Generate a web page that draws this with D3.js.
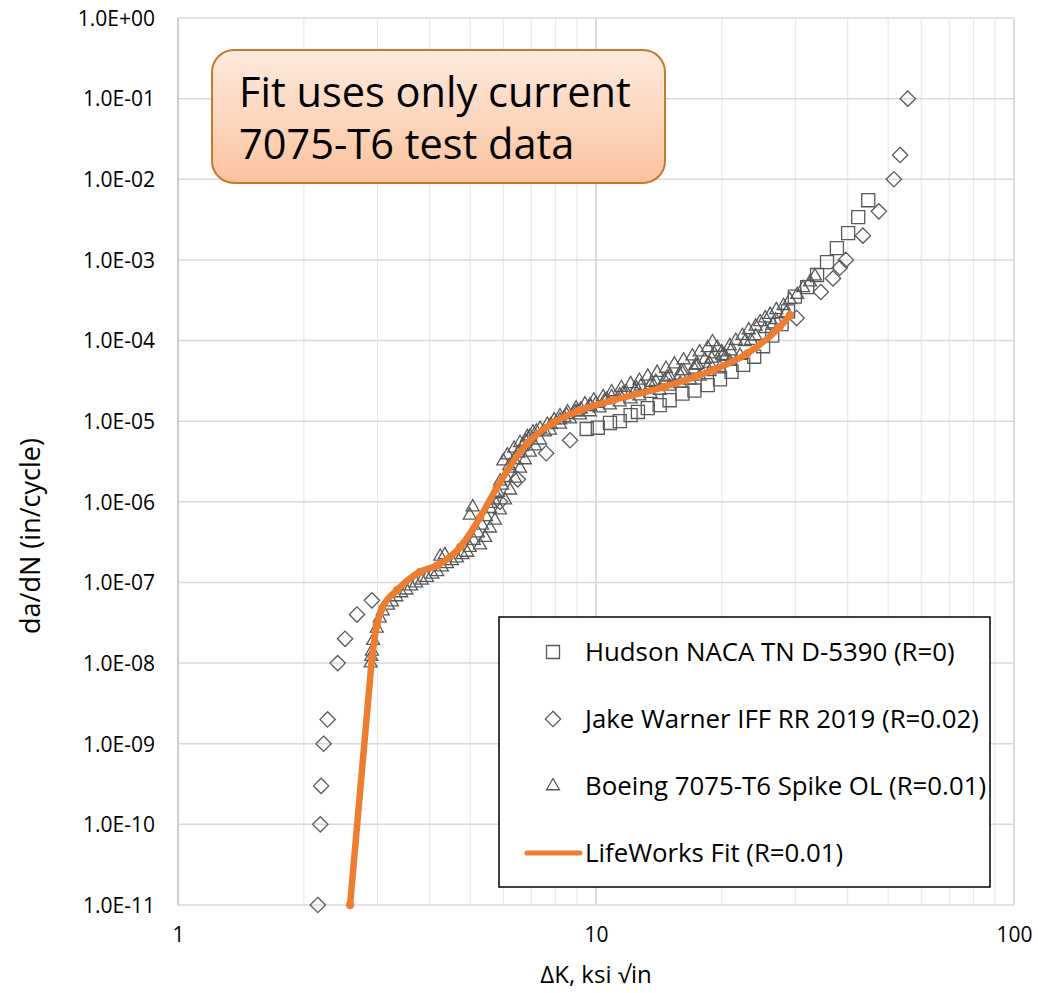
<!DOCTYPE html>
<html>
<head>
<meta charset="utf-8">
<script src="https://cdn.jsdelivr.net/npm/d3@7"></script>
<style>
  body { margin: 0; background: #fff; }
  text { font-family: "Open Sans", sans-serif; }
</style>
</head>
<body>
<div id="chart"></div>
<script>
// ---- data (delta K in ksi*sqrt(in), da/dN in in/cycle) ----
const hudson = [
  [9.5, 8.0e-6], [10.1, 8.3e-6], [10.8, 9.5e-6], [11.4, 1.0e-5], [12.1, 1.19e-5],
  [12.6, 1.3e-5], [13.3, 1.45e-5], [14.2, 1.58e-5], [15.0, 1.82e-5], [16.1, 2.2e-5],
  [17.2, 2.4e-5], [18.5, 2.8e-5], [19.8, 3.3e-5], [21.1, 4.1e-5], [22.5, 5.0e-5],
  [23.9, 6.3e-5], [25.1, 8.5e-5], [26.4, 1.15e-4], [27.8, 1.6e-4], [28.8, 2.3e-4],
  [29.9, 3.5e-4], [32.0, 4.6e-4], [33.8, 6.5e-4], [35.7, 9.4e-4], [37.7, 1.4e-3],
  [40.1, 2.15e-3], [42.4, 3.4e-3], [44.8, 5.5e-3]
];

const warner = [
  [2.16, 1e-11], [2.19, 1e-10], [2.20, 3e-10], [2.23, 1e-9], [2.28, 2e-9],
  [2.41, 1e-8], [2.51, 2e-8], [2.68, 4e-8], [2.91, 6e-8],
  [5.89, 1.0e-6], [6.5, 1.9e-6], [7.6, 4.0e-6], [8.67, 5.8e-6],
  [30.2, 1.9e-4], [34.5, 4e-4], [36.9, 5.9e-4], [38.3, 8e-4], [39.6, 1e-3],
  [43.5, 2e-3], [47.5, 4e-3], [51.6, 1e-2], [53.4, 2e-2], [55.7, 1e-1]
];

const boeing = [
  // near threshold
  [2.89, 1.0e-8], [2.90, 1.2e-8], [2.91, 1.4e-8], [2.93, 1.9e-8], [2.99, 2.7e-8],
  [3.04, 3.6e-8], [3.09, 4.4e-8], [3.18, 5.2e-8], [3.25, 5.7e-8], [3.33, 6.6e-8],
  [3.42, 7.4e-8], [3.52, 8.0e-8], [3.61, 9.0e-8], [3.71, 9.8e-8], [3.83, 1.06e-7],
  [3.94, 1.15e-7], [4.06, 1.26e-7], [4.17, 1.35e-7], [4.28, 1.55e-7], [4.40, 1.7e-7],
  [4.52, 1.85e-7], [4.65, 2.0e-7], [4.79, 2.2e-7], [4.92, 2.35e-7], [4.24, 2.1e-7],
  [4.35, 2.2e-7],
  // steep part
  [4.99, 2.7e-7], [5.10, 3.3e-7], [5.22, 4.1e-7], [5.34, 5.1e-7], [5.46, 6.5e-7],
  [5.58, 8.2e-7], [5.70, 1.05e-6], [5.83, 1.3e-6], [5.96, 1.6e-6], [6.09, 2.0e-6],
  [6.23, 2.6e-6], [6.37, 3.3e-6], [6.51, 4.0e-6], [6.65, 4.8e-6], [6.79, 5.6e-6],
  [6.95, 6.5e-6],
  [5.28, 2.9e-7], [5.43, 3.6e-7], [5.58, 4.7e-7], [5.73, 5.9e-7], [5.89, 7.9e-7],
  [6.06, 1.05e-6], [6.23, 1.39e-6], [6.40, 1.95e-6], [6.58, 2.6e-6], [6.76, 3.3e-6],
  [6.95, 4.1e-6], [7.15, 4.9e-6],
  [4.99, 6.8e-7], [5.07, 8.6e-7],
  [5.6, 9.5e-7], [5.75, 1.25e-6], [5.9, 1.8e-6], [6.2, 2.8e-6],
  // upper edge of the band
  [6.00, 3.2e-6], [6.14, 3.8e-6], [6.37, 4.6e-6], [6.58, 5.4e-6], [6.85, 6.4e-6],
  [7.07, 7.3e-6], [7.35, 8.1e-6], [7.65, 9.1e-6], [7.94, 1.03e-5], [8.20, 1.16e-5],
  [8.55, 1.3e-5], [8.96, 1.45e-5], [9.41, 1.63e-5], [9.88, 1.82e-5], [10.4, 2.0e-5],
  [10.9, 2.3e-5], [11.5, 2.6e-5], [12.1, 2.9e-5], [12.7, 3.2e-5], [13.3, 3.6e-5],
  [14.0, 4.0e-5], [14.7, 4.5e-5], [15.4, 5.1e-5], [16.2, 5.7e-5], [17.0, 6.4e-5],
  [17.7, 7.2e-5], [18.5, 8.1e-5], [19.0, 9.6e-5], [19.5, 8.2e-5],
  [7.2, 7.5e-6], [7.8, 9.0e-6], [8.4, 1.1e-5], [9.0, 1.3e-5], [9.7, 1.5e-5],
  [10.6, 1.85e-5], [11.6, 2.2e-5], [12.5, 2.55e-5], [13.6, 3.0e-5], [14.8, 3.5e-5],
  [16.0, 4.2e-5], [17.3, 4.9e-5], [18.2, 5.8e-5], [19.2, 6.8e-5], [21.0, 7.4e-5],
  [23.5, 1.0e-4], [26.5, 1.6e-4],
  // lower edge
  [7.35, 5.8e-6], [7.76, 7.7e-6], [8.20, 9.1e-6], [8.67, 1.06e-5], [9.16, 1.19e-5],
  [9.67, 1.3e-5], [10.2, 1.45e-5], [10.8, 1.58e-5], [11.4, 1.72e-5], [12.1, 1.88e-5],
  [12.7, 2.05e-5], [13.5, 2.2e-5], [14.2, 2.4e-5], [15.0, 2.7e-5], [15.9, 2.95e-5],
  [16.8, 3.2e-5], [17.7, 3.6e-5], [18.7, 4.1e-5], [19.8, 4.6e-5], [20.9, 5.5e-5],
  [22.1, 6.5e-5],
  // middle
  [7.55, 7.3e-6], [8.2, 1.03e-5], [8.91, 1.3e-5], [9.67, 1.58e-5], [10.5, 1.82e-5],
  [11.4, 2.1e-5], [12.4, 2.4e-5], [13.5, 2.8e-5], [14.6, 3.2e-5], [15.9, 3.7e-5],
  [17.2, 4.4e-5], [18.7, 5.2e-5], [20.4, 6.3e-5],
  [8.5, 1.2e-5], [9.2, 1.4e-5], [10.0, 1.65e-5], [10.9, 2.0e-5], [11.8, 2.3e-5],
  [12.8, 2.7e-5], [13.9, 3.1e-5], [15.0, 3.6e-5], [16.2, 4.2e-5], [17.5, 5.0e-5],
  [18.9, 6.0e-5], [20.1, 6.5e-5],
  // upper right
  [20.0, 7.2e-5], [20.9, 8.6e-5], [21.6, 1.0e-4], [22.4, 1.15e-4], [23.2, 1.35e-4],
  [24.1, 1.5e-4], [24.7, 1.7e-4], [25.4, 1.9e-4], [26.1, 2.1e-4], [27.0, 2.4e-4],
  [28.1, 2.7e-4], [29.1, 3.2e-4], [30.3, 3.7e-4], [31.3, 4.5e-4], [32.5, 5.3e-4],
  [33.4, 6.3e-4], [22.7, 9.6e-5], [24.1, 1.13e-4], [25.4, 1.4e-4], [26.9, 1.8e-4],
  [28.5, 2.2e-4]
];

const fitK    = [2.58, 2.91, 2.99, 3.08, 3.34, 3.79, 4.17, 4.73, 5.28, 5.79, 6.84, 7.89, 9.16, 11.0, 14.5, 19.05, 23.0, 27.5, 29.1];
const fitRate = [1e-11, 1.15e-8, 2.95e-8, 4.8e-8, 8e-8, 1.35e-7, 1.63e-7, 2.75e-7, 6.4e-7, 1.5e-6, 5.3e-6, 9.5e-6, 1.37e-5, 1.82e-5, 2.64e-5, 4.3e-5, 6.9e-5, 1.47e-4, 2.07e-4];

const yTicks = [1, 1e-1, 1e-2, 1e-3, 1e-4, 1e-5, 1e-6, 1e-7, 1e-8, 1e-9, 1e-10, 1e-11];
const xTicks = [1, 10, 100];

const legendLabels = [
  "Hudson NACA TN D-5390 (R=0)",
  "Jake Warner IFF RR 2019 (R=0.02)",
  "Boeing 7075-T6 Spike OL (R=0.01)",
  "LifeWorks Fit (R=0.01)"
];
const noteLines = ["Fit uses only current", "7075-T6 test data"];

// ---- layout ----
let width = 1038, height = 993;
let plot = { left: 178, right: 1014, top: 18, bottom: 905 };
let markerColor = "#595959";
let fitColor = "#ed7d31";

let svg = d3.select("#chart").append("svg")
  .attr("width", width)
  .attr("height", height);

svg.append("rect").attr("width", width).attr("height", height).attr("fill", "#fff");

let x = d3.scaleLog().domain([1, 100]).range([plot.left, plot.right]);
let y = d3.scaleLog().domain([1e-11, 1]).range([plot.bottom, plot.top]);

// gridlines
let grid = svg.append("g");
x.ticks().forEach(t => {
  let major = Math.abs(Math.log10(t) - Math.round(Math.log10(t))) < 1e-9;
  grid.append("line")
    .attr("x1", x(t)).attr("x2", x(t))
    .attr("y1", plot.top).attr("y2", plot.bottom)
    .attr("stroke", major ? "#d0d0d0" : "#e8e8e8")
    .attr("stroke-width", major ? 1.5 : 1.2);
});
yTicks.forEach(t => {
  grid.append("line")
    .attr("x1", plot.left).attr("x2", plot.right)
    .attr("y1", y(t)).attr("y2", y(t))
    .attr("stroke", "#d9d9d9")
    .attr("stroke-width", 1.5);
});
grid.append("line")
  .attr("x1", plot.left).attr("x2", plot.left)
  .attr("y1", plot.top).attr("y2", plot.bottom)
  .attr("stroke", "#c8c8c8").attr("stroke-width", 1.5);

// axes (labels only)
function sci(v) {
  let e = Math.round(Math.log10(v));
  return "1.0E" + (e >= 0 ? "+" : "-") + String(Math.abs(e)).padStart(2, "0");
}
let yAxis = svg.append("g")
  .attr("transform", "translate(" + (plot.left - 23) + ",0)")
  .call(d3.axisLeft(y).tickValues(yTicks).tickFormat(sci).tickSize(0).tickPadding(0));
yAxis.select(".domain").remove();
yAxis.selectAll("text")
  .attr("font-family", "Open Sans").attr("font-size", 21).attr("fill", "#000")
  .attr("dy", "0.35em");

let xAxis = svg.append("g")
  .attr("transform", "translate(0," + (plot.bottom + 22) + ")")
  .call(d3.axisBottom(x).tickValues(xTicks).tickFormat(d3.format("d")).tickSize(0).tickPadding(0));
xAxis.select(".domain").remove();
xAxis.selectAll("text")
  .attr("font-family", "Open Sans").attr("font-size", 21).attr("fill", "#000");

// axis titles
svg.append("text")
  .attr("x", (plot.left + plot.right) / 2)
  .attr("y", 983)
  .attr("text-anchor", "middle")
  .attr("font-size", 24)
  .text("\u0394K, ksi \u221Ain");

svg.append("text")
  .attr("transform", "translate(40,536)rotate(-90)")
  .attr("text-anchor", "middle")
  .attr("font-family", "Liberation Sans")
  .attr("font-size", 27)
  .text("da/dN (in/cycle)");

// marker shapes
let sq = d3.symbol().type(d3.symbolSquare).size(170);
let dia = d3.symbol().type(d3.symbolDiamond2).size(150);
let tri = d3.symbol().type(d3.symbolTriangle2).size(120);

function drawMarkers(data, sym, cls) {
  svg.append("g").selectAll("path." + cls)
    .data(data)
    .join("path")
    .attr("class", cls)
    .attr("d", sym)
    .attr("transform", d => "translate(" + x(d[0]) + "," + y(d[1]) + ")")
    .attr("fill", "none")
    .attr("stroke", markerColor)
    .attr("stroke-width", 1.3);
}
drawMarkers(hudson, sq, "hudson");
drawMarkers(warner, dia, "warner");
drawMarkers(boeing, tri, "boeing");

// fit line: straight threshold segment, then a smooth curve
let fit = fitK.map((k, i) => [k, fitRate[i]]);
let fitLinear = d3.line().x(d => x(d[0])).y(d => y(d[1]));
let fitSmooth = d3.line().x(d => x(d[0])).y(d => y(d[1])).curve(d3.curveMonotoneX);
[[fitLinear, fit.slice(0, 2)], [fitSmooth, fit.slice(1)]].forEach(([gen, pts]) => {
  svg.append("path")
    .datum(pts)
    .attr("d", gen)
    .attr("fill", "none")
    .attr("stroke", fitColor)
    .attr("stroke-width", 6.5)
    .attr("stroke-linejoin", "round")
    .attr("stroke-linecap", "round");
});
svg.append("g").selectAll("circle")
  .data(fit)
  .join("circle")
  .attr("cx", d => x(d[0]))
  .attr("cy", d => y(d[1]))
  .attr("r", 4.2)
  .attr("fill", fitColor);

// annotation box
let defs = svg.append("defs");
let grad = defs.append("linearGradient").attr("id", "noteFill")
  .attr("x1", 0).attr("y1", 0).attr("x2", 0).attr("y2", 1);
grad.append("stop").attr("offset", "0%").attr("stop-color", "#fdeadf");
grad.append("stop").attr("offset", "100%").attr("stop-color", "#fbc39d");

svg.append("rect")
  .attr("x", 212).attr("y", 50)
  .attr("width", 453).attr("height", 133)
  .attr("rx", 22)
  .attr("fill", "url(#noteFill)")
  .attr("stroke", "#c5792a")
  .attr("stroke-width", 2);
svg.append("g").selectAll("text")
  .data(noteLines)
  .join("text")
  .attr("x", 239)
  .attr("y", (d, i) => 107 + i * 52)
  .attr("font-size", 41.5)
  .attr("fill", "#000")
  .text(d => d);

// legend
let legend = svg.append("g");
legend.append("rect")
  .attr("x", 499).attr("y", 617)
  .attr("width", 491).attr("height", 270)
  .attr("fill", "#fff")
  .attr("stroke", "#000")
  .attr("stroke-width", 1.5);

let rowY = [652, 719, 786, 853];
let legendSyms = [sq, dia, tri];
legendSyms.forEach((s, i) => {
  legend.append("path")
    .attr("d", s)
    .attr("transform", "translate(553," + rowY[i] + ")")
    .attr("fill", "none")
    .attr("stroke", markerColor)
    .attr("stroke-width", 1.3);
});
legend.append("line")
  .attr("x1", 527).attr("x2", 580)
  .attr("y1", rowY[3]).attr("y2", rowY[3])
  .attr("stroke", fitColor).attr("stroke-width", 5)
  .attr("stroke-linecap", "round");

legend.selectAll("text.lab")
  .data(legendLabels)
  .join("text")
  .attr("class", "lab")
  .attr("x", 585)
  .attr("y", (d, i) => rowY[i])
  .attr("dy", "0.35em")
  .attr("font-size", 25.8)
  .attr("fill", "#000")
  .text(d => d);
</script>
</body>
</html>
